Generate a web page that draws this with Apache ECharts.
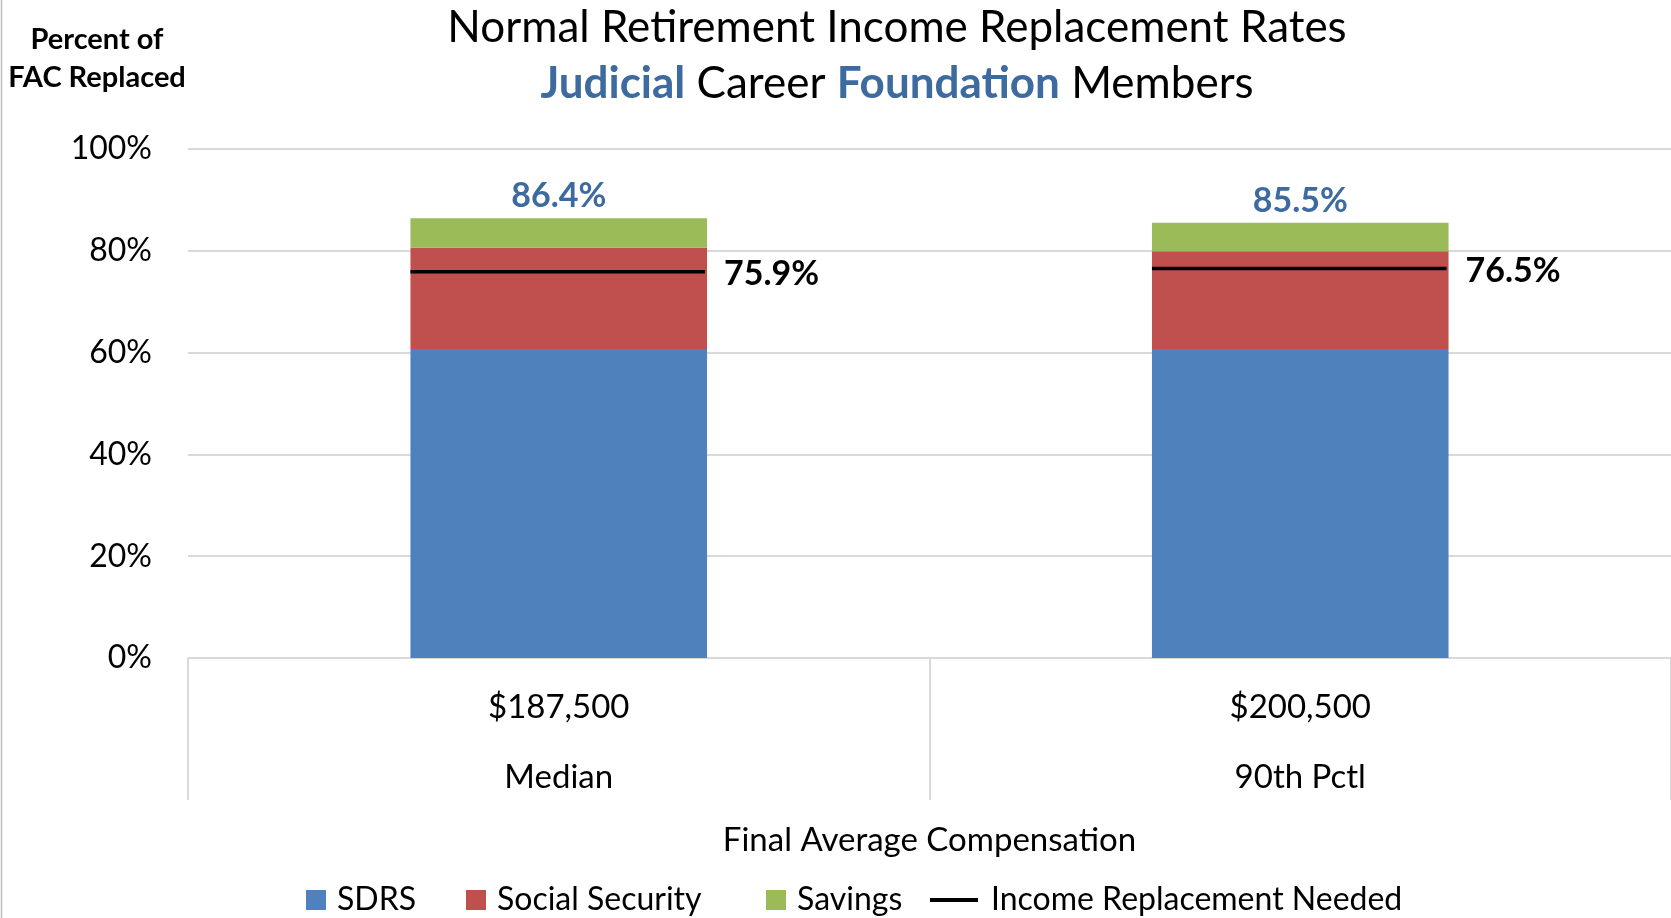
<!DOCTYPE html>
<html>
<head>
<meta charset="utf-8">
<title>Normal Retirement Income Replacement Rates</title>
<script src="https://cdn.jsdelivr.net/npm/echarts@6/dist/echarts.min.js"></script>
<style>
  html, body { margin: 0; padding: 0; background: #fff; }
  #chart { width: 1671px; height: 918px; }
</style>
</head>
<body>
<div id="chart"></div>
<script>
// Compensation levels (two-line category labels) and the share of FAC each source replaces
const categories = ['$187,500\nMedian', '$200,500\n90th Pctl'];
const sdrs = [60.7, 60.7];
const socialSecurity = [19.9, 19.2];
const savings = [5.8, 5.6];
const replacementNeeded = [75.9, 76.5];
const yTicks = [0, 20, 40, 60, 80, 100];

const FONT = 'Lato, "Open Sans", sans-serif';
const BLUE_TEXT = '#3D6A9F';
const BAR_RATIO = 0.4;
const LEGEND_FONT = { fontFamily: FONT, fontSize: 32, color: '#000' };

const totals = sdrs.map((v, i) => v + socialSecurity[i] + savings[i]);

// one legend block per entry so each keeps its own spot along the bottom row
function legendEntry(name, left, square) {
  return {
    data: [name], left: left, top: 884, padding: 0,
    icon: 'rect',
    itemWidth: square ? 20 : 48,
    itemHeight: square ? 20 : 4,
    textStyle: Object.assign({ padding: [0, 0, 0, square ? 6 : 8] }, LEGEND_FONT)
  };
}

const chart = echarts.init(document.getElementById('chart'), null, { renderer: 'canvas' });

chart.setOption({
  backgroundColor: '#fff',
  animation: false,
  textStyle: { fontFamily: FONT },
  grid: { left: 188, right: 0, top: 149, bottom: 260, outerBoundsMode: 'none' },
  graphic: [
    { type: 'line', shape: { x1: 1.5, y1: 0, x2: 1.5, y2: 918 }, style: { stroke: '#BFBFBF', lineWidth: 1.5 } },
    {
      type: 'text', x: 897, y: 28,
      style: {
        text: 'Normal Retirement Income Replacement Rates',
        fontFamily: FONT, fontSize: 44, fill: '#000',
        align: 'center', verticalAlign: 'middle'
      }
    },
    {
      type: 'text', x: 897, y: 84,
      style: {
        text: '{b|Judicial} Career {b|Foundation} Members',
        fontFamily: FONT, fontSize: 44, fill: '#000',
        align: 'center', verticalAlign: 'middle',
        rich: { b: { fontFamily: FONT, fontSize: 44, fontWeight: 'bold', fill: BLUE_TEXT } }
      }
    },
    {
      type: 'text', x: 97, y: 59,
      style: {
        text: 'Percent of\nFAC Replaced',
        fontFamily: FONT, fontSize: 29, fontWeight: 'bold', fill: '#000',
        lineHeight: 38, align: 'center', verticalAlign: 'middle'
      }
    }
  ],
  legend: [
    legendEntry('SDRS', 306, true),
    legendEntry('Social Security', 466, true),
    legendEntry('Savings', 766, true),
    legendEntry('Income Replacement Needed', 930, false)
  ],
  xAxis: {
    type: 'category',
    data: categories,
    boundaryGap: true,
    name: 'Final Average Compensation',
    nameLocation: 'middle',
    nameGap: 166,
    nameTextStyle: { fontFamily: FONT, fontSize: 33, color: '#000' },
    axisLine: { show: true, lineStyle: { color: '#D9D9D9', width: 2 } },
    axisTick: { show: true, length: 142, interval: 0, lineStyle: { color: '#D9D9D9', width: 2 } },
    axisLabel: { fontFamily: FONT, fontSize: 33, color: '#000', lineHeight: 70, margin: 14, interval: 0 }
  },
  yAxis: {
    type: 'value',
    min: yTicks[0],
    max: yTicks[yTicks.length - 1],
    interval: yTicks[1] - yTicks[0],
    axisLine: { show: false },
    axisTick: { show: false },
    axisLabel: { fontFamily: FONT, fontSize: 32, color: '#000', margin: 36, formatter: '{value}%' },
    splitLine: { show: true, lineStyle: { color: '#D9D9D9', width: 2 } }
  },
  series: [
    {
      name: 'SDRS', type: 'bar', stack: 'total', barWidth: (BAR_RATIO * 100) + '%',
      itemStyle: { color: '#4F81BD' }, data: sdrs
    },
    {
      name: 'Social Security', type: 'bar', stack: 'total',
      itemStyle: { color: '#C0504D' }, data: socialSecurity
    },
    {
      name: 'Savings', type: 'bar', stack: 'total',
      itemStyle: { color: '#9BBB59' }, data: savings,
      label: {
        show: true, position: 'top', distance: 5,
        fontFamily: FONT, fontSize: 34, fontWeight: 'bold', color: BLUE_TEXT,
        formatter: p => totals[p.dataIndex].toFixed(1) + '%'
      }
    },
    {
      name: 'Income Replacement Needed', type: 'custom',
      itemStyle: { color: '#000' },
      data: replacementNeeded.map((v, i) => [i, v]),
      encode: { x: 0, y: 1 },
      z: 5,
      renderItem: function (params, api) {
        const v = api.value(1);
        const p = api.coord([api.value(0), v]);
        const half = api.size([1, 0])[0] * BAR_RATIO / 2;
        return {
          type: 'group',
          children: [
            {
              type: 'line',
              shape: { x1: p[0] - half, y1: p[1], x2: p[0] + half - 2, y2: p[1] },
              style: { stroke: '#000', lineWidth: 3.5 }
            },
            {
              type: 'text', x: p[0] + half + 17, y: p[1] + 2,
              style: {
                text: v.toFixed(1) + '%',
                fontFamily: FONT, fontSize: 34, fontWeight: 'bold', fill: '#000',
                align: 'left', verticalAlign: 'middle'
              }
            }
          ]
        };
      }
    }
  ]
});
</script>
</body>
</html>
